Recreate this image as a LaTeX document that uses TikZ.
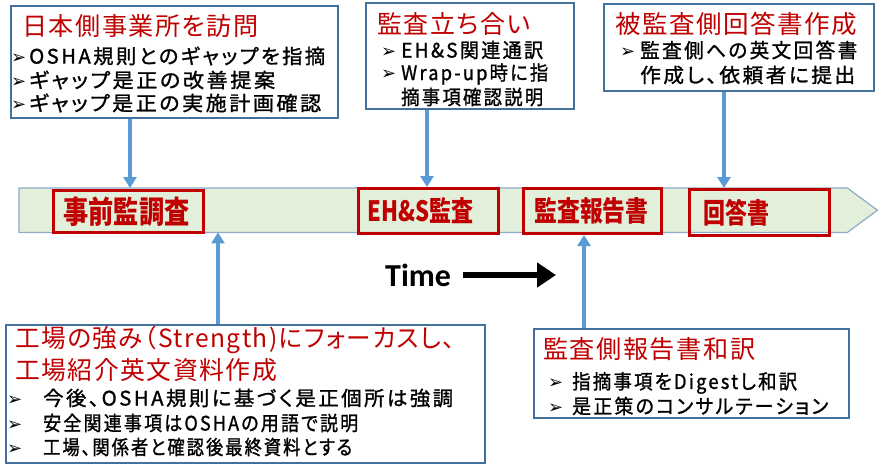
\documentclass[tikz,border=0pt]{standalone}
\usepackage{fontspec}
\usepackage{graphicx}
\usetikzlibrary{arrows.meta}
\newfontfamily\jp[RawFeature=+palt]{Noto Sans CJK JP}
\newfontfamily\dv{DejaVu Sans}
\newfontfamily\timefont{Carlito}
\definecolor{boxblue}{RGB}{65,113,156}
\definecolor{arrblue}{RGB}{91,155,213}
\definecolor{redc}{RGB}{192,0,0}
\definecolor{bandfill}{RGB}{226,239,218}
\definecolor{bandline}{RGB}{143,170,200}
\newcommand\fw[2]{\resizebox{#1}{\height}{#2}}
\newcommand\bu[1]{\makebox[#1][l]{\raisebox{0.5pt}{\dv\fontsize{18}{18}\selectfont ➢}}}
\begin{document}
\begin{tikzpicture}[x=1pt,y=-1pt,
  infobox/.style={draw=boxblue, line width=2pt, fill=white, anchor=north west, inner sep=0pt},
  redbox/.style={draw=redc, line width=3pt, anchor=north west, inner ysep=0pt, align=left, text=redc, font=\jp\bfseries},
  ttl/.style={anchor=west, inner sep=0pt, text=redc, font=\jp\addfontfeature{LetterSpace=6}\fontsize{25}{25}\selectfont},
  bl/.style={anchor=west, inner sep=0pt, text=black, font=\jp\addfontfeature{LetterSpace=12,FakeBold=1.2}\fontsize{20}{20}\selectfont},
  blarrow/.style={draw=arrblue, line width=3.5pt, -{Triangle[length=11pt,width=13pt]}},
  bandstyle/.style={draw=bandline, line width=1.2pt, fill=bandfill}
]
\useasboundingbox (0,0) rectangle (879,472);

% timeline band
\node[minimum width=828pt, minimum height=44pt, inner sep=0pt, anchor=north west] (band) at (19,188) {};
\draw[bandstyle] (band.north west) -- (band.north east) -- ([xshift=30pt]band.east) -- (band.south east) -- (band.south west) -- cycle;

% red labels on the band
\node[redbox, inner xsep=10pt, text width=130pt, minimum height=42pt] (r1) at (52,189) {\fontsize{31}{31}\selectfont\fw{126pt}{事前監調査}};
\node[redbox, inner xsep=9pt, text width=122pt, minimum height=45pt] (r2) at (357,187) {\fontsize{28}{28}\selectfont\fw{106pt}{EH\&S監査}};
\node[redbox, inner xsep=11pt, text width=116pt, minimum height=45pt] (r3) at (522,187) {\fontsize{28}{28}\selectfont\fw{114pt}{監査報告書}};
\node[redbox, inner xsep=14pt, text width=112pt, minimum height=46pt] (r4) at (688,188) {\fontsize{28}{28}\selectfont\fw{66pt}{回答書}};

% Time arrow
\node[anchor=west, inner sep=0pt, font=\timefont\bfseries\fontsize{32}{32}\selectfont] (time) at (385,275) {Time};
\coordinate (tend) at (556,275);
\draw[line width=5.5pt, -{Triangle[length=19pt,width=24pt]}] ([xshift=12pt]time.east) -- (tend);

% box 1
\node[infobox, minimum width=327pt, minimum height=112pt] (b1) at (10,5) {};
\node[ttl] (b1t) at (22,26) {\fw{236pt}{日本側事業所を訪問}};
\node[bl] (b1a) at (11,56) {\bu{18pt}\fw{296pt}{OSHA規則とのギャップを指摘}};
\node[bl] (b1b) at (11,80) {\bu{18pt}\fw{246pt}{ギャップ是正の改善提案}};
\node[bl] (b1c) at (11,103) {\bu{18pt}\fw{292pt}{ギャップ是正の実施計画確認}};

% box 2
\node[infobox, minimum width=208pt, minimum height=106pt] (b2) at (365,2) {};
\node[ttl] (b2t) at (377,24) {\fw{153pt}{監査立ち合い}};
\node[bl] (b2a) at (381,50) {\bu{20pt}\fw{142pt}{EH\&S関連通訳}};
\node[bl] (b2b) at (381,74) {\bu{20pt}\fw{147pt}{Wrap-up時に指}};
\node[bl] (b2c) at (381,97) {\hspace*{20pt}\fw{142pt}{摘事項確認説明}};

% box 3
\node[infobox, minimum width=270pt, minimum height=87pt] (b3) at (603,3) {};
\node[ttl] (b3t) at (615,24) {\fw{242pt}{被監査側回答書作成}};
\node[bl] (b3a) at (620,50) {\bu{20pt}\fw{217pt}{監査側への英文回答書}};
\node[bl] (b3b) at (620,75) {\hspace*{20pt}\fw{215pt}{作成し、依頼者に提出}};

% bottom-left box
\node[infobox, minimum width=479pt, minimum height=138pt] (b4) at (5,324) {};
\node[ttl] (b4t) at (15,340) {\fw{440pt}{工場の強み（Strength)にフォーカスし、}};
\node[ttl] (b4u) at (15,370) {\fw{262pt}{工場紹介英文資料作成}};
\node[bl] (b4a) at (7,398) {\bu{36pt}\fw{410pt}{今後、OSHA規則に基づく是正個所は強調}};
\node[bl] (b4b) at (7,423) {\bu{36pt}\fw{315pt}{安全関連事項はOSHAの用語で説明}};
\node[bl] (b4c) at (7,447) {\bu{36pt}\fw{309pt}{工場、関係者と確認後最終資料とする}};

% bottom-right box
\node[infobox, minimum width=315pt, minimum height=89pt] (b5) at (533,328) {};
\node[ttl] (b5t) at (543,349) {\fw{212pt}{監査側報告書和訳}};
\node[bl] (b5a) at (548,383) {\bu{24pt}\fw{225pt}{指摘事項をDigestし和訳}};
\node[bl] (b5b) at (548,406) {\bu{24pt}\fw{256pt}{是正策のコンサルテーション}};

% connectors
\coordinate (x1) at (130,0);
\coordinate (x2) at (427,0);
\coordinate (x3) at (724,0);
\coordinate (x4) at (218,0);
\coordinate (x5) at (584,0);
\draw[blarrow] (b1.south -| x1) -- (band.north -| x1);
\draw[blarrow] (b2.south -| x2) -- (r2.north -| x2);
\draw[blarrow] (b3.south -| x3) -- (r4.north -| x3);
\draw[blarrow] (b4.north -| x4) -- (band.south -| x4);
\draw[blarrow] (b5.north -| x5) -- (r3.south -| x5);
\end{tikzpicture}
\end{document}
